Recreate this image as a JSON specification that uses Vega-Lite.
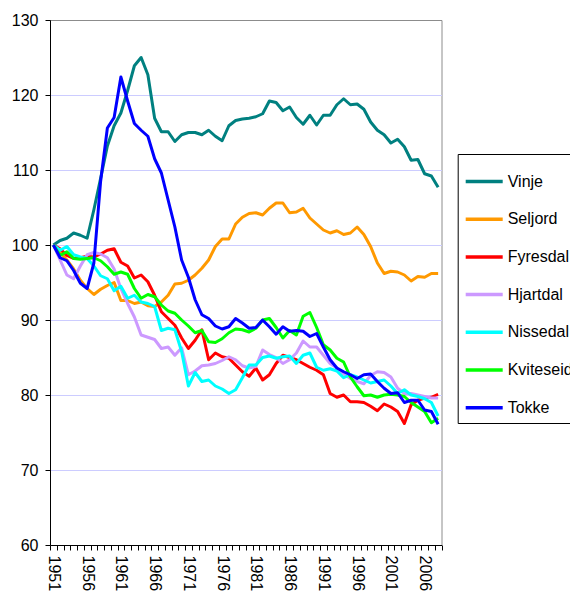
{
  "$schema": "https://vega.github.io/schema/vega-lite/v6.json",
  "width": 391.5,
  "height": 525,
  "autosize": {"type": "none"},
  "padding": {"left": 50, "top": 20, "right": 128.5, "bottom": 46},
  "background": "#ffffff",
  "config": {
    "view": {"stroke": "#8c8c8c", "strokeWidth": 1},
    "font": "Liberation Sans",
    "axis": {"labelFont": "Liberation Sans", "labelFontSize": 16, "labelColor": "#000000", "domainColor": "#000000", "tickColor": "#000000", "tickSize": 5, "title": null}
  },
  "data": {
    "values": [
      {"year":1951,"Vinje":100,"Seljord":100,"Fyresdal":100,"Hjartdal":100,"Nissedal":100,"Kviteseid":100,"Tokke":100},
      {"year":1952,"Vinje":100.6,"Seljord":99.0,"Fyresdal":99.5,"Hjartdal":98.0,"Nissedal":99.3,"Kviteseid":98.6,"Tokke":98.3},
      {"year":1953,"Vinje":100.9,"Seljord":98.0,"Fyresdal":98.6,"Hjartdal":96.0,"Nissedal":99.8,"Kviteseid":99.1,"Tokke":97.9},
      {"year":1954,"Vinje":101.6,"Seljord":96.8,"Fyresdal":98.2,"Hjartdal":95.5,"Nissedal":98.7,"Kviteseid":98.2,"Tokke":96.6},
      {"year":1955,"Vinje":101.3,"Seljord":95.3,"Fyresdal":98.3,"Hjartdal":97.2,"Nissedal":98.4,"Kviteseid":98.1,"Tokke":94.9},
      {"year":1956,"Vinje":100.9,"Seljord":94.2,"Fyresdal":98.5,"Hjartdal":98.7,"Nissedal":98.2,"Kviteseid":98.2,"Tokke":94.2},
      {"year":1957,"Vinje":104.7,"Seljord":93.4,"Fyresdal":98.4,"Hjartdal":99.0,"Nissedal":97.2,"Kviteseid":98.3,"Tokke":97.6},
      {"year":1958,"Vinje":108.9,"Seljord":94.1,"Fyresdal":98.8,"Hjartdal":98.8,"Nissedal":95.9,"Kviteseid":97.9,"Tokke":108.5},
      {"year":1959,"Vinje":113.2,"Seljord":94.6,"Fyresdal":99.3,"Hjartdal":98.3,"Nissedal":95.5,"Kviteseid":97.1,"Tokke":115.6},
      {"year":1960,"Vinje":115.9,"Seljord":95.0,"Fyresdal":99.5,"Hjartdal":96.8,"Nissedal":93.9,"Kviteseid":96.1,"Tokke":117.0},
      {"year":1961,"Vinje":117.6,"Seljord":92.6,"Fyresdal":97.7,"Hjartdal":94.2,"Nissedal":94.5,"Kviteseid":96.4,"Tokke":122.4},
      {"year":1962,"Vinje":120.6,"Seljord":92.6,"Fyresdal":97.2,"Hjartdal":92.2,"Nissedal":92.9,"Kviteseid":96.1,"Tokke":119.2},
      {"year":1963,"Vinje":123.9,"Seljord":92.2,"Fyresdal":95.6,"Hjartdal":90.4,"Nissedal":93.3,"Kviteseid":94.2,"Tokke":116.2},
      {"year":1964,"Vinje":125.0,"Seljord":92.4,"Fyresdal":96.0,"Hjartdal":88.0,"Nissedal":92.4,"Kviteseid":92.9,"Tokke":115.3},
      {"year":1965,"Vinje":122.7,"Seljord":91.9,"Fyresdal":95.1,"Hjartdal":87.7,"Nissedal":92.2,"Kviteseid":93.4,"Tokke":114.5},
      {"year":1966,"Vinje":116.9,"Seljord":91.8,"Fyresdal":93.3,"Hjartdal":87.4,"Nissedal":91.8,"Kviteseid":93.1,"Tokke":111.5},
      {"year":1967,"Vinje":115.1,"Seljord":92.4,"Fyresdal":91.1,"Hjartdal":86.2,"Nissedal":88.6,"Kviteseid":92.0,"Tokke":109.6},
      {"year":1968,"Vinje":115.1,"Seljord":93.3,"Fyresdal":90.2,"Hjartdal":86.4,"Nissedal":88.9,"Kviteseid":91.2,"Tokke":106.0},
      {"year":1969,"Vinje":113.8,"Seljord":94.8,"Fyresdal":89.3,"Hjartdal":85.3,"Nissedal":88.7,"Kviteseid":90.9,"Tokke":102.4},
      {"year":1970,"Vinje":114.7,"Seljord":94.9,"Fyresdal":87.6,"Hjartdal":86.3,"Nissedal":85.8,"Kviteseid":90.0,"Tokke":98.0},
      {"year":1971,"Vinje":115.0,"Seljord":95.3,"Fyresdal":86.2,"Hjartdal":82.7,"Nissedal":81.2,"Kviteseid":89.2,"Tokke":95.7},
      {"year":1972,"Vinje":115.0,"Seljord":96.0,"Fyresdal":87.3,"Hjartdal":83.2,"Nissedal":83.0,"Kviteseid":88.3,"Tokke":92.7},
      {"year":1973,"Vinje":114.7,"Seljord":96.9,"Fyresdal":88.7,"Hjartdal":83.9,"Nissedal":81.8,"Kviteseid":88.6,"Tokke":90.7},
      {"year":1974,"Vinje":115.3,"Seljord":98.0,"Fyresdal":84.7,"Hjartdal":84.0,"Nissedal":82.0,"Kviteseid":87.1,"Tokke":90.2},
      {"year":1975,"Vinje":114.5,"Seljord":99.8,"Fyresdal":85.6,"Hjartdal":84.2,"Nissedal":81.2,"Kviteseid":87.0,"Tokke":89.2},
      {"year":1976,"Vinje":113.9,"Seljord":100.8,"Fyresdal":85.1,"Hjartdal":84.6,"Nissedal":80.8,"Kviteseid":87.5,"Tokke":88.8},
      {"year":1977,"Vinje":115.9,"Seljord":100.8,"Fyresdal":84.9,"Hjartdal":85.1,"Nissedal":80.2,"Kviteseid":88.3,"Tokke":89.1},
      {"year":1978,"Vinje":116.6,"Seljord":102.8,"Fyresdal":84.0,"Hjartdal":84.7,"Nissedal":80.7,"Kviteseid":88.8,"Tokke":90.2},
      {"year":1979,"Vinje":116.8,"Seljord":103.7,"Fyresdal":83.1,"Hjartdal":83.9,"Nissedal":82.3,"Kviteseid":88.7,"Tokke":89.6},
      {"year":1980,"Vinje":116.9,"Seljord":104.2,"Fyresdal":82.5,"Hjartdal":83.6,"Nissedal":84.0,"Kviteseid":88.4,"Tokke":88.9},
      {"year":1981,"Vinje":117.1,"Seljord":104.3,"Fyresdal":83.6,"Hjartdal":83.8,"Nissedal":84.0,"Kviteseid":88.9,"Tokke":89.0},
      {"year":1982,"Vinje":117.5,"Seljord":104.0,"Fyresdal":82.0,"Hjartdal":86.0,"Nissedal":85.0,"Kviteseid":90.0,"Tokke":90.0},
      {"year":1983,"Vinje":119.2,"Seljord":104.9,"Fyresdal":82.7,"Hjartdal":85.4,"Nissedal":85.2,"Kviteseid":90.2,"Tokke":89.1},
      {"year":1984,"Vinje":119.0,"Seljord":105.6,"Fyresdal":84.2,"Hjartdal":85.0,"Nissedal":84.9,"Kviteseid":89.0,"Tokke":88.1},
      {"year":1985,"Vinje":117.9,"Seljord":105.6,"Fyresdal":85.3,"Hjartdal":84.2,"Nissedal":85.1,"Kviteseid":87.6,"Tokke":89.1},
      {"year":1986,"Vinje":118.4,"Seljord":104.3,"Fyresdal":85.0,"Hjartdal":84.7,"Nissedal":85.2,"Kviteseid":88.6,"Tokke":88.5},
      {"year":1987,"Vinje":117.0,"Seljord":104.4,"Fyresdal":84.7,"Hjartdal":85.6,"Nissedal":84.2,"Kviteseid":88.0,"Tokke":88.6},
      {"year":1988,"Vinje":116.1,"Seljord":104.9,"Fyresdal":84.2,"Hjartdal":87.2,"Nissedal":85.3,"Kviteseid":90.5,"Tokke":88.5},
      {"year":1989,"Vinje":117.3,"Seljord":103.6,"Fyresdal":83.7,"Hjartdal":86.4,"Nissedal":85.6,"Kviteseid":91.0,"Tokke":87.8},
      {"year":1990,"Vinje":116.0,"Seljord":102.8,"Fyresdal":83.3,"Hjartdal":86.4,"Nissedal":83.7,"Kviteseid":89.0,"Tokke":88.2},
      {"year":1991,"Vinje":117.3,"Seljord":102.0,"Fyresdal":82.7,"Hjartdal":85.3,"Nissedal":83.3,"Kviteseid":86.7,"Tokke":86.4},
      {"year":1992,"Vinje":117.3,"Seljord":101.6,"Fyresdal":80.2,"Hjartdal":84.2,"Nissedal":83.5,"Kviteseid":86.0,"Tokke":84.7},
      {"year":1993,"Vinje":118.7,"Seljord":101.9,"Fyresdal":79.7,"Hjartdal":83.6,"Nissedal":83.2,"Kviteseid":84.9,"Tokke":83.6},
      {"year":1994,"Vinje":119.5,"Seljord":101.4,"Fyresdal":80.0,"Hjartdal":82.8,"Nissedal":82.3,"Kviteseid":84.4,"Tokke":83.1},
      {"year":1995,"Vinje":118.7,"Seljord":101.6,"Fyresdal":79.1,"Hjartdal":82.2,"Nissedal":82.7,"Kviteseid":82.4,"Tokke":82.7},
      {"year":1996,"Vinje":118.8,"Seljord":102.4,"Fyresdal":79.1,"Hjartdal":81.8,"Nissedal":82.4,"Kviteseid":81.1,"Tokke":82.2},
      {"year":1997,"Vinje":118.1,"Seljord":101.4,"Fyresdal":79.0,"Hjartdal":81.5,"Nissedal":82.0,"Kviteseid":79.9,"Tokke":82.7},
      {"year":1998,"Vinje":116.4,"Seljord":99.8,"Fyresdal":78.5,"Hjartdal":82.6,"Nissedal":81.6,"Kviteseid":80.0,"Tokke":82.8},
      {"year":1999,"Vinje":115.3,"Seljord":97.6,"Fyresdal":77.9,"Hjartdal":83.1,"Nissedal":81.8,"Kviteseid":79.7,"Tokke":81.8},
      {"year":2000,"Vinje":114.7,"Seljord":96.2,"Fyresdal":78.8,"Hjartdal":83.0,"Nissedal":82.0,"Kviteseid":80.0,"Tokke":80.9},
      {"year":2001,"Vinje":113.6,"Seljord":96.5,"Fyresdal":78.4,"Hjartdal":82.4,"Nissedal":81.2,"Kviteseid":80.1,"Tokke":80.2},
      {"year":2002,"Vinje":114.1,"Seljord":96.4,"Fyresdal":77.8,"Hjartdal":80.9,"Nissedal":80.2,"Kviteseid":80.0,"Tokke":80.3},
      {"year":2003,"Vinje":113.1,"Seljord":96.0,"Fyresdal":76.2,"Hjartdal":80.2,"Nissedal":80.7,"Kviteseid":79.8,"Tokke":79.0},
      {"year":2004,"Vinje":111.3,"Seljord":95.2,"Fyresdal":78.7,"Hjartdal":80.2,"Nissedal":80.0,"Kviteseid":79.0,"Tokke":79.3},
      {"year":2005,"Vinje":111.4,"Seljord":95.8,"Fyresdal":79.3,"Hjartdal":80.0,"Nissedal":79.8,"Kviteseid":78.4,"Tokke":79.3},
      {"year":2006,"Vinje":109.5,"Seljord":95.7,"Fyresdal":79.6,"Hjartdal":79.8,"Nissedal":79.5,"Kviteseid":77.8,"Tokke":78.0},
      {"year":2007,"Vinje":109.2,"Seljord":96.2,"Fyresdal":79.7,"Hjartdal":79.6,"Nissedal":79.0,"Kviteseid":76.3,"Tokke":77.8},
      {"year":2008,"Vinje":107.7,"Seljord":96.2,"Fyresdal":80.1,"Hjartdal":79.6,"Nissedal":77.2,"Kviteseid":76.9,"Tokke":76.1}
    ]
  },
  "transform": [
    {"fold": ["Vinje", "Seljord", "Fyresdal", "Hjartdal", "Nissedal", "Kviteseid", "Tokke"], "as": ["kommune", "indeks"]}
  ],
  "mark": {"type": "line", "strokeWidth": 3, "strokeJoin": "round", "clip": false},
  "encoding": {
    "x": {
      "field": "year",
      "type": "quantitative",
      "scale": {"domain": [1950.5, 2008.5], "nice": false, "zero": false},
      "axis": {
        "values": [1950.5,1951.5,1952.5,1953.5,1954.5,1955.5,1956.5,1957.5,1958.5,1959.5,1960.5,1961.5,1962.5,1963.5,1964.5,1965.5,1966.5,1967.5,1968.5,1969.5,1970.5,1971.5,1972.5,1973.5,1974.5,1975.5,1976.5,1977.5,1978.5,1979.5,1980.5,1981.5,1982.5,1983.5,1984.5,1985.5,1986.5,1987.5,1988.5,1989.5,1990.5,1991.5,1992.5,1993.5,1994.5,1995.5,1996.5,1997.5,1998.5,1999.5,2000.5,2001.5,2002.5,2003.5,2004.5,2005.5,2006.5,2007.5,2008.5],
        "labelExpr": "(datum.value + 0.5) % 5 == 1 ? toString(datum.value + 0.5) : ''",
        "labelOffset": 3.375,
        "labelAngle": 90,
        "labelAlign": "left",
        "labelBaseline": "middle",
        "labelPadding": 5,
        "labelOverlap": false,
        "labelFlush": false,
        "grid": false
      }
    },
    "y": {
      "field": "indeks",
      "type": "quantitative",
      "scale": {"domain": [60, 130], "nice": false, "zero": false},
      "axis": {
        "values": [60, 70, 80, 90, 100, 110, 120, 130],
        "grid": true,
        "gridColor": {"condition": {"test": "datum.value == 130", "value": "#8c8c8c"}, "value": "#ccccff"},
        "labelPadding": 7
      }
    },
    "color": {
      "field": "kommune",
      "type": "nominal",
      "sort": ["Vinje", "Seljord", "Fyresdal", "Hjartdal", "Nissedal", "Kviteseid", "Tokke"],
      "scale": {
        "domain": ["Vinje", "Seljord", "Fyresdal", "Hjartdal", "Nissedal", "Kviteseid", "Tokke"],
        "range": ["#008080", "#ff9900", "#ff0000", "#cc99ff", "#00ffff", "#00ff00", "#0000ff"]
      },
      "legend": {
        "title": null,
        "orient": "none",
        "legendX": 407.7,
        "legendY": 134,
        "strokeColor": "#000000",
        "fillColor": "#ffffff",
        "padding": 7,
        "symbolType": "stroke",
        "symbolSize": 1369,
        "symbolStrokeWidth": 3.5,
        "symbolOffset": -1,
        "labelFont": "Liberation Sans",
        "labelFontSize": 16,
        "labelColor": "#000000",
        "labelOffset": 3,
        "labelLimit": 300,
        "rowPadding": 8.7
      }
    }
  }
}
